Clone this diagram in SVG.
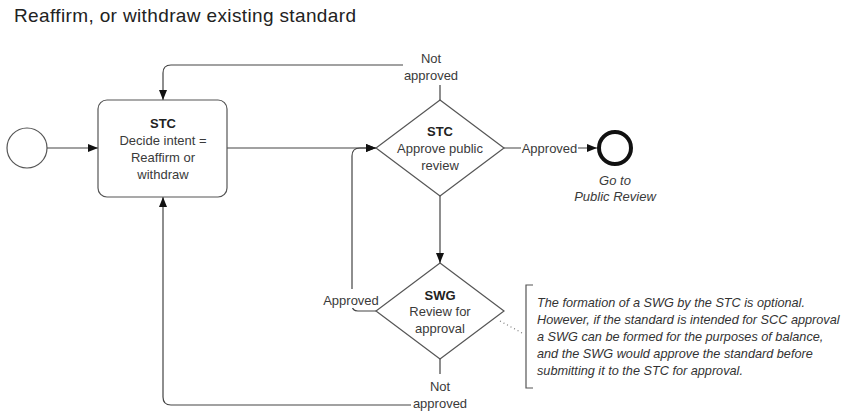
<svg xmlns="http://www.w3.org/2000/svg" width="849" height="413" viewBox="0 0 849 413">
<style>
  .t { font-family: "Liberation Sans", Arial, sans-serif; font-size: 13px; fill: #3a3a3a; text-anchor: middle; }
  .b { font-weight: bold; fill: #222; }
  .it { font-style: italic; }
  .note { font-family: "Liberation Sans", Arial, sans-serif; font-size: 12.7px; font-style: italic; fill: #333; }
  .title { font-family: "Liberation Sans", Arial, sans-serif; font-size: 19px; fill: #222; }
  .shape { fill: #fff; stroke: #555; stroke-width: 1.2; }
  .conn { fill: none; stroke: #444; stroke-width: 1.2; }
  .lblbg { fill: #fff; }
</style>
<defs>
  <marker id="arrow" markerUnits="userSpaceOnUse" markerWidth="10" markerHeight="10" viewBox="0 0 10 10" refX="10" refY="5" orient="auto">
    <path d="M0,1 L10,5 L0,9 Z" fill="#111"/>
  </marker>
</defs>
<rect width="849" height="413" fill="#fff"/>
<text class="title" x="14" y="22" textLength="342" lengthAdjust="spacing">Reaffirm, or withdraw existing standard</text>

<g id="connectors">
  <line class="conn" x1="47" y1="148" x2="98" y2="148" marker-end="url(#arrow)"/>
  <line class="conn" x1="227" y1="148" x2="376" y2="148" marker-end="url(#arrow)"/>
  <path class="conn" d="M440,100 V65 H171 Q163,65 163,73 V100" marker-end="url(#arrow)"/>
  <line class="conn" x1="504" y1="148" x2="597" y2="148" marker-end="url(#arrow)"/>
  <line class="conn" x1="440" y1="196" x2="440" y2="263" marker-end="url(#arrow)"/>
  <path class="conn" d="M376,311 H358 Q352,311 352,305 V156 Q352,148 360,148 H376" marker-end="url(#arrow)"/>
  <path class="conn" d="M440,359 V405 H171 Q163,405 163,397 V197" marker-end="url(#arrow)"/>
  <line x1="500" y1="321" x2="524" y2="334" stroke="#777" stroke-width="1.2" stroke-dasharray="1,3"/>
  <rect class="lblbg" x="403" y="50" width="56" height="35"/>
  <text class="t" x="431" y="63">Not</text>
  <text class="t" x="431" y="80">approved</text>
  <rect class="lblbg" x="521" y="140" width="57" height="16"/>
  <text class="t" x="549.5" y="152.5">Approved</text>
  <rect class="lblbg" x="322" y="289" width="58" height="19"/>
  <text class="t" x="351" y="304.5">Approved</text>
  <rect class="lblbg" x="411" y="374" width="58" height="39"/>
  <text class="t" x="440" y="390.5">Not</text>
  <text class="t" x="440" y="407.5">approved</text>
</g>

<g id="start">
  <circle class="shape" cx="27" cy="148" r="20"/>
</g>

<g id="decide">
  <rect class="shape" x="98" y="100" width="129" height="97" rx="9"/>
  <text class="t b" x="163" y="128">STC</text>
  <text class="t" x="163" y="145">Decide intent =</text>
  <text class="t" x="163" y="162">Reaffirm or</text>
  <text class="t" x="163" y="179">withdraw</text>
</g>

<g id="approve-public">
  <polygon class="shape" points="440,100 504,148 440,196 376,148"/>
  <text class="t b" x="440" y="136">STC</text>
  <text class="t" x="440" y="153">Approve public</text>
  <text class="t" x="440" y="170">review</text>
</g>

<g id="end">
  <circle cx="615" cy="148" r="16" fill="#fff" stroke="#111" stroke-width="4"/>
  <text class="t it" x="615" y="185">Go to</text>
  <text class="t it" x="615" y="201">Public Review</text>
</g>

<g id="swg-review">
  <polygon class="shape" points="440,263 504,311 440,359 376,311"/>
  <text class="t b" x="440" y="300">SWG</text>
  <text class="t" x="440" y="316">Review for</text>
  <text class="t" x="440" y="333">approval</text>
</g>

<g id="annotation">
  <path d="M533,285 H526 V388 H533" fill="none" stroke="#555" stroke-width="1.2"/>
  <text class="note" x="537" y="307">The formation of a SWG by the STC is optional.</text>
  <text class="note" x="537" y="324">However, if the standard is intended for SCC approval</text>
  <text class="note" x="537" y="341">a SWG can be formed for the purposes of balance,</text>
  <text class="note" x="537" y="358">and the SWG would approve the standard before</text>
  <text class="note" x="537" y="375">submitting it to the STC for approval.</text>
</g>
</svg>
